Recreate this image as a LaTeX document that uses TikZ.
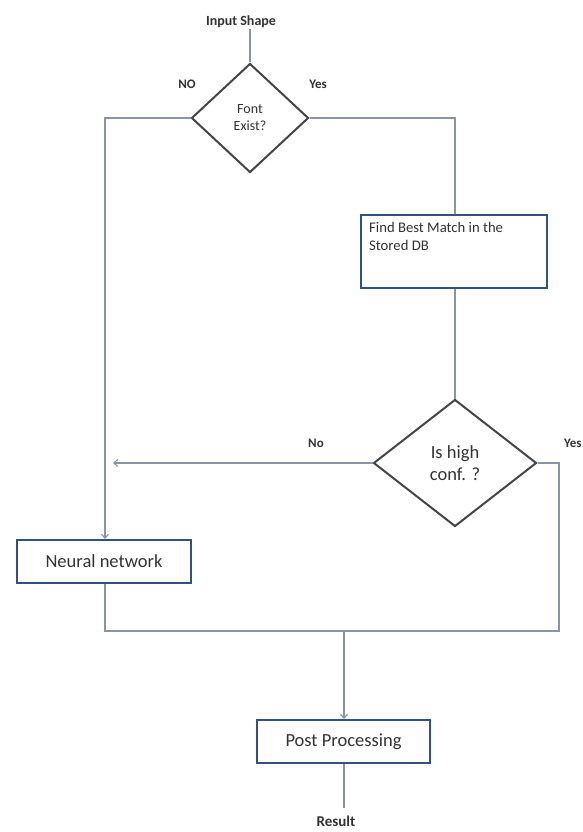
\documentclass[tikz,border=0pt]{standalone}
\usepackage{fontspec}
\setmainfont{Carlito}
\usetikzlibrary{shapes.geometric,arrows.meta}
\definecolor{linec}{HTML}{8A94A2}
\definecolor{boxc}{HTML}{33507E}
\definecolor{diac}{HTML}{454545}
\definecolor{txtc}{HTML}{333333}
\tikzset{
  conn/.style={draw=linec, line width=1.1pt},
  arr/.style={conn, -{Straight Barb[length=4pt,width=7pt]}},
  dec/.style={shape=diamond, draw=diac, line width=2pt, inner sep=0pt, align=center, text=txtc},
  procbox/.style={draw=boxc, line width=2pt, inner sep=0pt, text=txtc},
  lbl/.style={font=\bfseries\fontsize{13}{15}\selectfont, text=txtc, inner sep=1pt},
}
\begin{document}
\begin{tikzpicture}[x=1pt,y=-1pt]
\useasboundingbox (0,0) rectangle (583,832);
\fill[white] (0,0) rectangle (583,832);
% nodes
\node[lbl, font=\bfseries\fontsize{14}{16}\selectfont] (inp) at (241,22) {Input Shape};
\node[dec, minimum width=117pt, minimum height=109pt, font=\fontsize{14}{17}\selectfont] (d1) at (250,118) {Font\\Exist?};
\node[lbl] (no1) at (187,84) {NO};
\node[lbl] (yes1) at (318,84) {Yes};
\node[procbox, minimum width=186pt, minimum height=73pt] (fb) at (454,251) {};
\node[anchor=north west, align=left, inner sep=0pt, text=txtc, font=\fontsize{14.7}{18}\selectfont] (fbt) at (369,222) {Find Best Match in the\\Stored DB};
\node[dec, minimum width=163pt, minimum height=127pt, font=\fontsize{18.5}{22}\selectfont] (d2) at (455,463) {Is high\\conf. ?};
\node[lbl] (no2) at (316,443) {No};
\node[lbl, anchor=west] (yes2) at (563,443) {Yes};
\node[procbox, minimum width=174pt, minimum height=43pt, font=\fontsize{18.5}{20}\selectfont] (nn) at (104,561.5) {Neural network};
\node[procbox, minimum width=173pt, minimum height=43pt, font=\fontsize{18.5}{20}\selectfont] (pp) at (343.5,741.5) {Post Processing};
\node[lbl, font=\bfseries\fontsize{15}{17}\selectfont] (res) at (336,821) {Result};
% helper coordinates
\coordinate (c1) at (105,118);
\coordinate (c2) at (455,118);
\coordinate (na) at (113,463);
\coordinate (r1) at (559,463);
\coordinate (r2) at (559,631);
\coordinate (l2) at (105,631);
\coordinate (m1) at (344,631);
\coordinate (rt) at (344,808);
% connectors
\draw[conn] (d1.north |- inp.south) -- (d1.north);
\draw[arr] (d1.west) -- (c1) -- (nn.north -| c1);
\draw[conn] (d1.east) -- (c2) -- (fb.north -| c2);
\draw[conn] (fb.south -| c2) -- (d2.north);
\draw[arr] (d2.west) -- (na);
\draw[conn] (d2.east) -- (r1) -- (r2) -- (l2) -- (nn.south -| l2);
\draw[arr] (m1) -- (pp.north -| m1);
\draw[conn] (pp.south -| m1) -- (rt);
\end{tikzpicture}
\end{document}
